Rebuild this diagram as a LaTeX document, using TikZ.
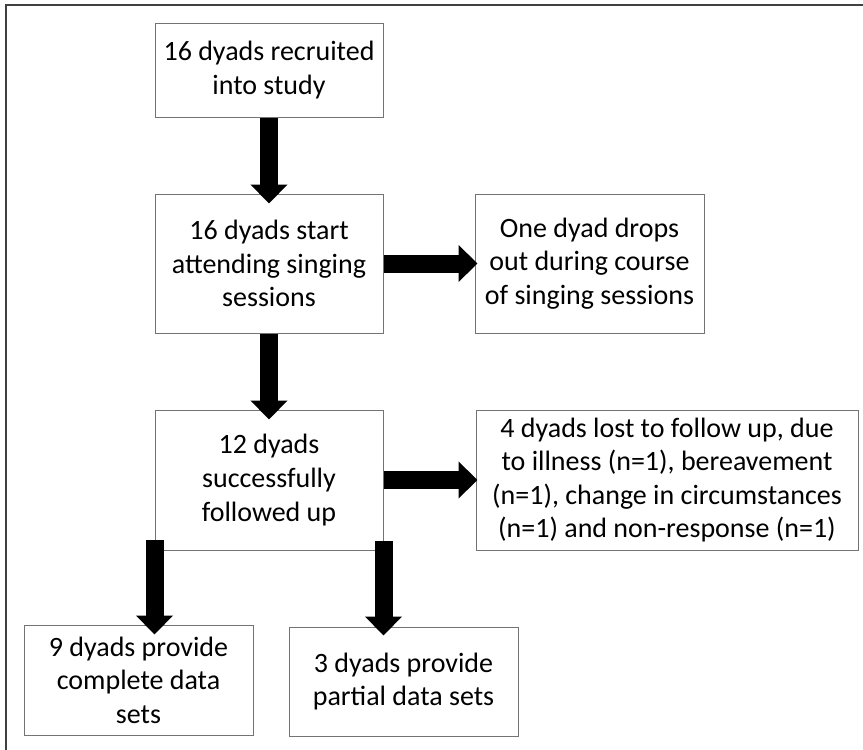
\documentclass[tikz,border=0pt]{standalone}
\usepackage{fontspec}
\setmainfont{Carlito}
\usetikzlibrary{arrows.meta,positioning,calc}

\begin{document}
\begin{tikzpicture}[x=0.5pt,y=-0.5pt, box/.style={draw=black!55,line width=0.5pt,align=center,inner sep=2pt,font=\fontsize{14}{16.8}\selectfont,minimum width=114pt}, fat/.style={line width=9pt,-{Triangle[width=18pt,length=9.5pt]}}, frame/.style={draw=black!75,line width=0.9pt}]
\useasboundingbox (0,0) rectangle (863,750);
\draw[frame] (6,760) -- (6,5) -- (870,5);
\node[box,minimum height=47pt] (recruit) at (269,70) {16 dyads recruited\\into study};
\node[box,minimum height=69.5pt,below=38pt of recruit] (attend) {16 dyads start\\attending singing\\sessions};
\node[box,minimum height=69.5pt,minimum width=114.5pt,right=45.5pt of attend] (dropout) {One dyad drops\\out during course\\of singing sessions};
\node[box,minimum height=70pt,below=38pt of attend] (follow) {12 dyads\\successfully\\followed up};
\node[box,minimum height=70pt,minimum width=191pt,right=46pt of follow] (lost) {4 dyads lost to follow up, due\\to illness (n=1), bereavement\\(n=1), change in circumstances\\(n=1) and non-response (n=1)};
\node[box,minimum height=55pt,minimum width=114.5pt,below=37pt of follow,xshift=-65.25pt] (complete) {9 dyads provide\\complete data\\sets};
\node[box,minimum height=54.5pt,minimum width=114.5pt,below=38pt of follow,xshift=67.25pt] (partial) {3 dyads provide\\partial data sets};
\draw[fat] (recruit) -- ([yshift=-5pt]attend.north);
\draw[fat] (attend) -- ([xshift=1.5pt]dropout.west);
\draw[fat] (attend) -- ([yshift=-5pt]follow.north);
\draw[fat] (follow) -- ([xshift=1pt]lost.west);
\draw[fat] ([yshift=5.5pt]follow.south west) -- ($(follow.south west |- complete.north)+(0,-5pt)$);
\draw[fat] ([yshift=5pt]follow.south east) -- ($(follow.south east |- partial.north)+(0,-4.5pt)$);
\end{tikzpicture}
\end{document}
